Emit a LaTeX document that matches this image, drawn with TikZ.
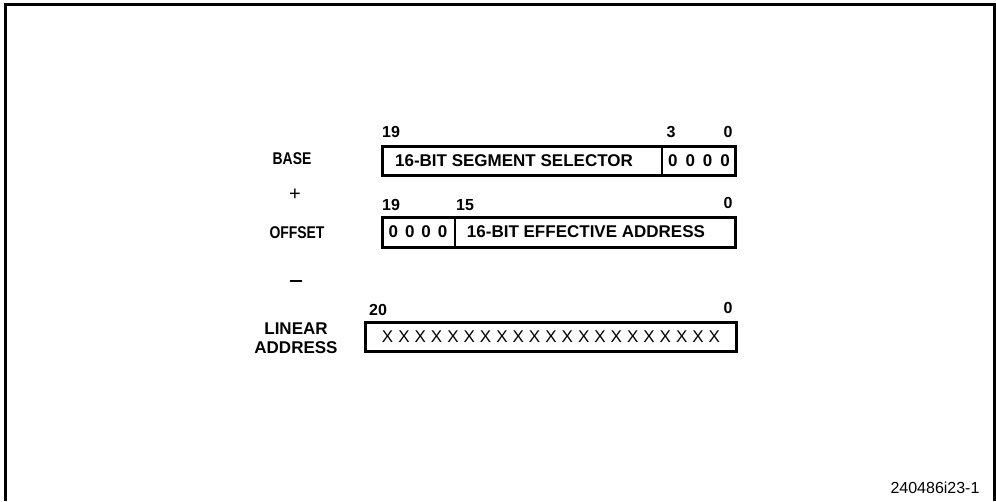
\documentclass[tikz,border=0pt]{standalone}
\usepackage{fontspec}
\setmainfont{Liberation Sans}
\usepackage{graphicx}
\begin{document}
\begin{tikzpicture}[x=1pt,y=-1pt,
  reg/.style={draw=black,line width=3pt},
  divl/.style={draw=black,line width=2pt},
  bitno/.style={font=\fontsize{16}{17}\selectfont\bfseries,inner sep=0pt},
  fieldtxt/.style={font=\fontsize{17}{19}\selectfont\bfseries,inner sep=0pt},
  sidelbl/.style={font=\fontsize{17}{19}\selectfont\bfseries,inner sep=0pt,align=center},
  framel/.style={draw=black,line width=3pt}]
\useasboundingbox (0,0) rectangle (996,501);
% outer frame (open at the bottom)
\draw[framel] (5,501) -- (5,4) -- (994,4) -- (994,501);

% BASE register
\draw[reg] (382,146) rectangle (735,175);
\draw[divl] (662,146) -- (662,175);
\node[fieldtxt] (basetxt) at (514,161) {16-BIT SEGMENT SELECTOR};
\node[fieldtxt] (basez) at (699,161) {0\hspace{8pt}0\hspace{8pt}0\hspace{8pt}0};
\node[bitno] (b19) at (391,132) {19};
\node[bitno] (b3) at (671,132) {3};
\node[bitno] (b0) at (728,132) {0};

% OFFSET register
\draw[reg] (382,217) rectangle (735,247);
\draw[divl] (455,217) -- (455,247);
\node[fieldtxt] (offz) at (418,232) {0\hspace{7pt}0\hspace{7pt}0\hspace{7pt}0};
\node[fieldtxt] (offtxt) at (586,232) {16-BIT EFFECTIVE ADDRESS};
\node[bitno] (o19) at (391,205) {19};
\node[bitno] (o15) at (465,205) {15};
\node[bitno] (o0) at (728,203) {0};

% LINEAR ADDRESS register
\draw[reg] (365,322) rectangle (736,351);
\node[fieldtxt,font=\fontsize{17}{19}\selectfont] (lintxt) at (551,337) {X\hspace{5pt}X\hspace{5pt}X\hspace{5pt}X\hspace{5pt}X\hspace{5pt}X\hspace{5pt}X\hspace{5pt}X\hspace{5pt}X\hspace{5pt}X\hspace{5pt}X\hspace{5pt}X\hspace{5pt}X\hspace{5pt}X\hspace{5pt}X\hspace{5pt}X\hspace{5pt}X\hspace{5pt}X\hspace{5pt}X\hspace{5pt}X\hspace{5pt}X};
\node[bitno] (l20) at (378,310) {20};
\node[bitno] (l0) at (728,308) {0};

% side labels
\node[sidelbl] (base) at (292,159) {\scalebox{0.82}[1]{BASE}};
\node[sidelbl,font=\fontsize{20}{22}\selectfont] (plus) at (295,195) {+};
\node[sidelbl] (offset) at (297,233) {\scalebox{0.82}[1]{OFFSET}};
\node[sidelbl] (minus) at (296,281) {\rule{12pt}{1.8pt}};
\node[sidelbl] (linear) at (296,338) {LINEAR\\ADDRESS};

% figure number
\node[font=\fontsize{16}{17}\selectfont,inner sep=0pt] (fig) at (935,488) {240486i23-1};
\end{tikzpicture}
\end{document}
